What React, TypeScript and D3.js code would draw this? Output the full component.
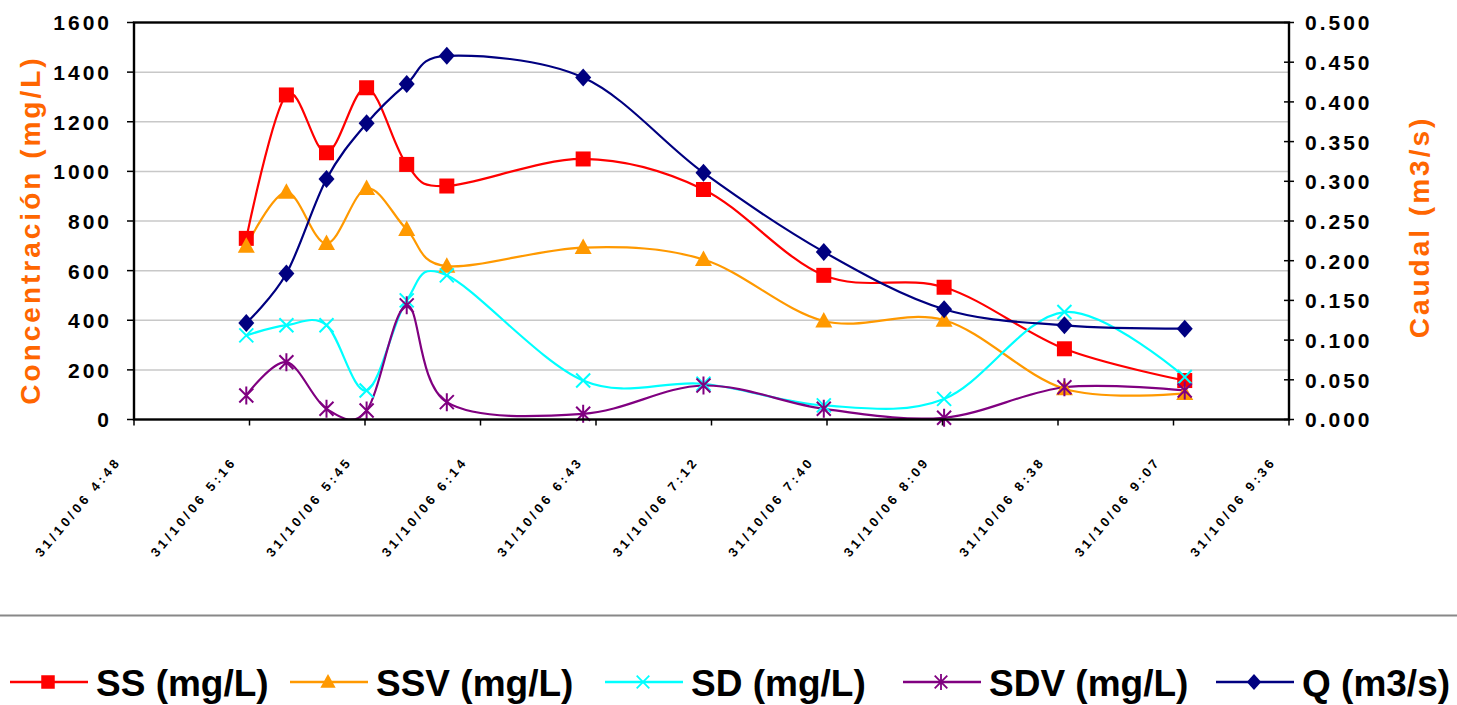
import React from "react";
import * as d3 from "d3";

// ---- data ----
const sampleTimes = ["05:16", "05:26", "05:36", "05:46", "05:56", "06:06", "06:40", "07:10", "07:40", "08:10", "08:40", "09:10"];
const ssValues = [730, 1308, 1075, 1337, 1028, 941, 1050, 927, 581, 533, 285, 157];
const ssvValues = [698, 916, 709, 931, 766, 618, 693, 645, 397, 400, 124, 105];
const sdValues = [339, 380, 380, 117, 480, 581, 157, 144, 57, 83, 433, 171];
const sdvValues = [97, 231, 43, 36, 460, 70, 23, 137, 43, 7, 130, 117];
const qValues = [0.1215, 0.1838, 0.3028, 0.373, 0.4227, 0.458, 0.4306, 0.3108, 0.2111, 0.1388, 0.1186, 0.1144];

const xTickLabels = [
  "31/10/06 4:48", "31/10/06 5:16", "31/10/06 5:45", "31/10/06 6:14", "31/10/06 6:43",
  "31/10/06 7:12", "31/10/06 7:40", "31/10/06 8:09", "31/10/06 8:38", "31/10/06 9:07", "31/10/06 9:36",
];
const leftTicks = [0, 200, 400, 600, 800, 1000, 1200, 1400, 1600];
const rightTicks = [0, 0.05, 0.1, 0.15, 0.2, 0.25, 0.3, 0.35, 0.4, 0.45, 0.5];

const axisStart = "2006-10-31T04:48:00";
const axisEnd = "2006-10-31T09:36:00";
const dayPrefix = "2006-10-31T";

const leftTitle = "Concentración (mg/L)";
const rightTitle = "Caudal (m3/s)";

type Series = { name: string; values: number[]; color: string; marker: string; axis: "L" | "R" };
const seriesList: Series[] = [
  { name: "SS (mg/L)", values: ssValues, color: "#FF0000", marker: "square", axis: "L" },
  { name: "SSV (mg/L)", values: ssvValues, color: "#FF9900", marker: "triangle", axis: "L" },
  { name: "SD (mg/L)", values: sdValues, color: "#00FFFF", marker: "x", axis: "L" },
  { name: "SDV (mg/L)", values: sdvValues, color: "#800080", marker: "star", axis: "L" },
  { name: "Q (m3/s)", values: qValues, color: "#000080", marker: "diamond", axis: "R" },
];

const legendX = [10, 290, 605, 903, 1216];

const FONT = "'Liberation Sans', Arial, sans-serif";

function Marker({ type, color, x, y, s = 1 }: { type: string; color: string; x: number; y: number; s?: number }) {
  const t = `translate(${x},${y}) scale(${s})`;
  if (type === "square") return <rect transform={t} x={-7.5} y={-7.5} width={15} height={15} fill={color} />;
  if (type === "triangle") return <path transform={t} d="M0,-9L8.5,6.5L-8.5,6.5Z" fill={color} />;
  if (type === "diamond") return <path transform={t} d="M0,-9L8,0L0,9L-8,0Z" fill={color} />;
  if (type === "x")
    return <path transform={t} d="M-7,-7L7,7M-7,7L7,-7" stroke={color} strokeWidth={2} fill="none" />;
  return <path transform={t} d="M-7,-7L7,7M-7,7L7,-7M0,-9L0,9" stroke={color} strokeWidth={2} fill="none" />;
}

export default function App() {
  const W = 1457, H = 705;
  const L = 134, R = 1289, T = 22.5, B = 419.5;
  const start = new Date(axisStart);
  const end = new Date(axisEnd);
  const x = d3.scaleTime().domain([start, end]).range([L, R]);
  const yL = d3.scaleLinear().domain([0, 1600]).range([B, T]);
  const yR = d3.scaleLinear().domain([0, 0.5]).range([B, T]);
  const dates = sampleTimes.map((s) => new Date(dayPrefix + s + ":00"));
  const nT = xTickLabels.length;
  const xTicks = d3.range(nT).map((i) => new Date(+start + ((+end - +start) * i) / (nT - 1)));

  const line = d3.line<[number, number]>().curve(d3.curveCardinal.tension(0)).x((d) => d[0]).y((d) => d[1]);

  return (
    <div style={{ position: "absolute", left: 0, top: 0 }}>
      <svg width={W} height={H} style={{ display: "block", background: "#fff" }} fontFamily={FONT}>
        <defs>
          <clipPath id="plotclip">
            <rect x={L} y={T} width={R - L} height={B - T} />
          </clipPath>
        </defs>
        {/* gridlines */}
        {leftTicks.filter((v) => v > 0 && v < 1600).map((v) => (
          <line key={v} x1={L} x2={R} y1={yL(v)} y2={yL(v)} stroke="#C8C8C8" strokeWidth={1.5} />
        ))}
        {/* series */}
        <g clipPath="url(#plotclip)">
          {seriesList.map((s) => {
            const ys = s.axis === "L" ? yL : yR;
            const pts = s.values.map((v, i) => [x(dates[i]), ys(v)] as [number, number]);
            return <path key={s.name} d={line(pts) || ""} fill="none" stroke={s.color} strokeWidth={2.2} />;
          })}
        </g>
        {seriesList.map((s) => {
          const ys = s.axis === "L" ? yL : yR;
          return (
            <g key={s.name + "m"}>
              {s.values.map((v, i) => (
                <Marker key={i} type={s.marker} color={s.color} x={x(dates[i])} y={ys(v)} />
              ))}
            </g>
          );
        })}
        {/* frame */}
        <rect x={L} y={T} width={R - L} height={B - T} fill="none" stroke="#000" strokeWidth={2.4} />
        {/* left ticks */}
        {leftTicks.map((v) => (
          <g key={"lt" + v}>
            <line x1={L - 7} x2={L} y1={yL(v)} y2={yL(v)} stroke="#000" strokeWidth={1.5} />
            <text x={112} y={yL(v)} dy="0.38em" textAnchor="end" fontSize={21} fontWeight="bold" letterSpacing={3} fill="#000">
              {String(v)}
            </text>
          </g>
        ))}
        {/* right ticks */}
        {rightTicks.map((v) => (
          <g key={"rt" + v}>
            <line x1={R - 5} x2={R + 5} y1={yR(v)} y2={yR(v)} stroke="#000" strokeWidth={1.5} />
            <text x={1305} y={yR(v)} dy="0.38em" textAnchor="start" fontSize={21} fontWeight="bold" letterSpacing={3} fill="#000">
              {d3.format(".3f")(v)}
            </text>
          </g>
        ))}
        {/* x ticks */}
        {xTicks.map((d, i) => (
          <g key={"xt" + i}>
            <line x1={x(d)} x2={x(d)} y1={B} y2={B + 6} stroke="#000" strokeWidth={1.5} />
            <text
              transform={`translate(${x(d) - 12},${B + 42}) rotate(-50)`}
              textAnchor="end"
              fontSize={13}
              fontWeight="bold"
              letterSpacing={3.5}
              fill="#000"
            >
              {xTickLabels[i]}
            </text>
          </g>
        ))}
        {/* axis titles */}
        <text
          transform={`translate(40,230) rotate(-90)`}
          textAnchor="middle"
          fontSize={28}
          fontWeight="bold"
          letterSpacing={3}
          fill="#FF6600"
        >
          {leftTitle}
        </text>
        <text
          transform={`translate(1429,227) rotate(-90)`}
          textAnchor="middle"
          fontSize={28}
          fontWeight="bold"
          letterSpacing={3}
          fill="#FF6600"
        >
          {rightTitle}
        </text>
        {/* legend separator */}
        <line x1={0} x2={W} y1={615.5} y2={615.5} stroke="#888" strokeWidth={2} />
        {/* legend */}
        {seriesList.map((s, i) => {
          const lx = legendX[i];
          const cy = 682;
          return (
            <g key={"lg" + s.name}>
              <line x1={lx} x2={lx + 78} y1={cy} y2={cy} stroke={s.color} strokeWidth={2.5} />
              <Marker type={s.marker} color={s.color} x={lx + 38} y={cy} s={0.9} />
              <text x={lx + 86} y={cy + 14} fontSize={37} fontWeight="bold" fill="#000">
                {s.name}
              </text>
            </g>
          );
        })}
      </svg>
    </div>
  );
}
